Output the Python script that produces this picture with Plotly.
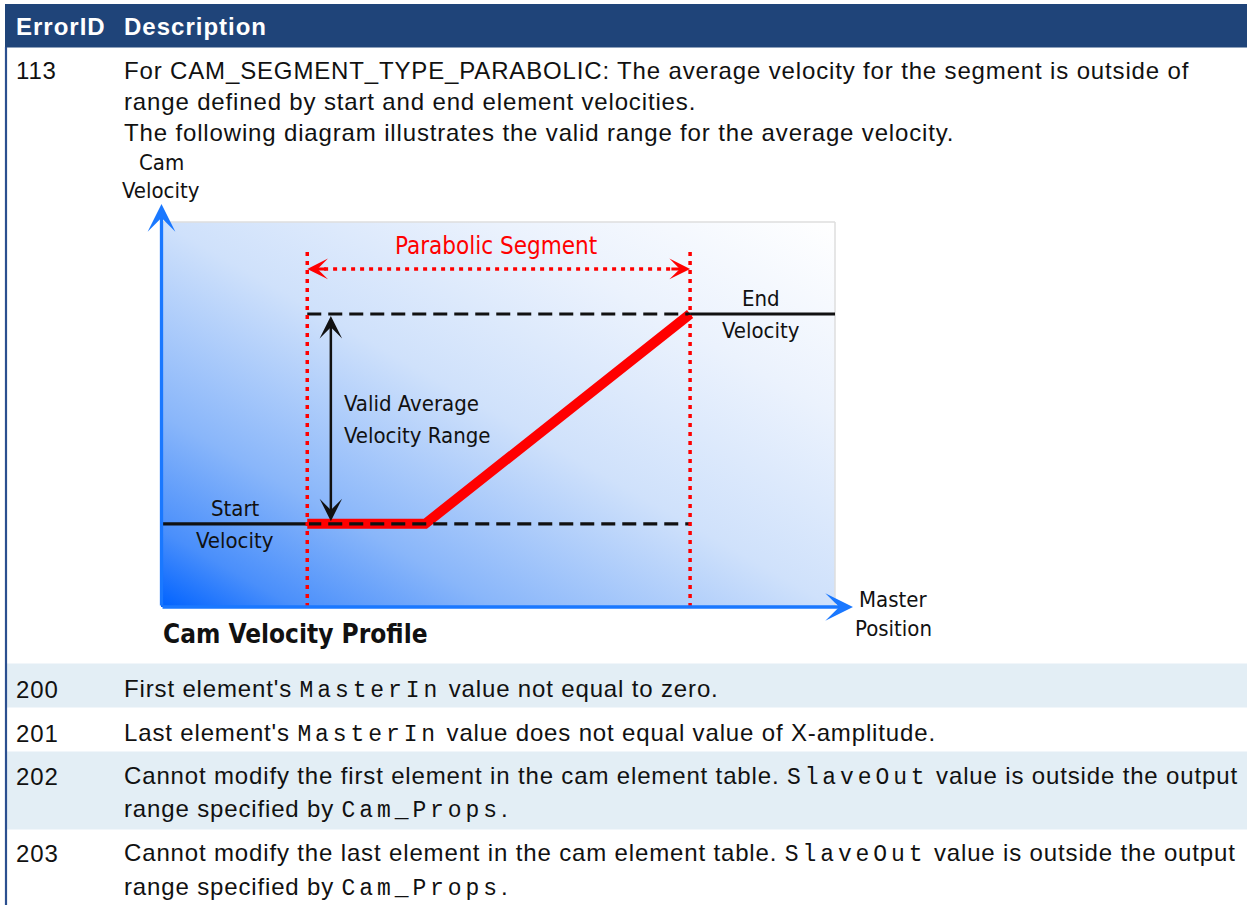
import base64
import plotly.graph_objects as go

W, H = 1247, 905

# ---------------- table data ----------------
columns = ["ErrorID", "Description"]
error_ids = ["113", "200", "201", "202", "203"]
# text between backticks is shown in a monospace (code) font
descriptions = [
    ["For CAM_SEGMENT_TYPE_PARABOLIC: The average velocity for the segment is outside of",
     "range defined by start and end element velocities.",
     "The following diagram illustrates the valid range for the average velocity."],
    ["First element's `MasterIn` value not equal to zero."],
    ["Last element's `MasterIn` value does not equal value of X-amplitude."],
    ["Cannot modify the first element in the cam element table. `SlaveOut` value is outside the output",
     "range specified by `Cam_Props`."],
    ["Cannot modify the last element in the cam element table. `SlaveOut` value is outside the output",
     "range specified by `Cam_Props`."],
]

# ---------------- diagram data (master position / cam velocity units) ----------------
profile_master = [2.17, 3.92, 7.85]
profile_velocity = [2.16, 2.16, 7.61]
start_velocity = 2.16
end_velocity = 7.61
segment_start = 2.17
segment_end = 7.85
segment_marker_level = 8.78
segment_marker_top = 9.27
diagram_x_range = [0, 10]
diagram_y_range = [0, 10]

# ---------------- layout constants (pixels) ----------------
row_tops = [47.5, 663.5, 707.5, 751.5, 829.5, 905]
row_first_line = [70, 689, 733, 776, 853]
line_gap = [31, 0, 0, 33.5, 34.5]
shaded_rows = [1, 3]
header_color = "#1f4479"
stripe_color = "#e3eef5"
box = dict(x0=161, x1=835, y0=222, y1=607)  # diagram plotting box (px)

BODY_FONT = "Liberation Sans, Arial, sans-serif"
NARROW = "Liberation Sans Narrow, DejaVu Sans Condensed, Arial Narrow, sans-serif"
BODY_SPACING = "0.85px"
MONO_STYLE = ("font-family:'Liberation Mono','Courier New',monospace;"
              "font-size:23px;letter-spacing:3.9px")


def rich(line):
    parts = line.split("`")
    out = []
    for j, p in enumerate(parts):
        if not p:
            continue
        if j % 2:
            out.append('<span style="%s">%s</span>' % (MONO_STYLE, p))
        else:
            out.append('<span style="letter-spacing:%s">%s</span>' % (BODY_SPACING, p))
    return "".join(out)


fig = go.Figure()

# diagram profile line
fig.add_trace(go.Scatter(
    x=profile_master, y=profile_velocity, xaxis="x2", yaxis="y2",
    mode="lines", line=dict(color="#ff0000", width=10), hoverinfo="skip",
    showlegend=False))

shapes = []
annotations = []

# header band and row stripes
shapes.append(dict(type="rect", xref="x", yref="y", x0=5, x1=W, y0=4, y1=47.5,
                   fillcolor=header_color, line=dict(width=0), layer="below"))
for i in shaded_rows:
    shapes.append(dict(type="rect", xref="x", yref="y", x0=7, x1=W,
                       y0=row_tops[i], y1=row_tops[i + 1], fillcolor=stripe_color,
                       line=dict(width=0), layer="below"))
# left border
shapes.append(dict(type="line", xref="x", yref="y", x0=6, x1=6, y0=47, y1=H,
                   line=dict(color="#2b4f8f", width=2.2)))

# header text
for xpos, col in zip((14, 122), columns):
    annotations.append(dict(x=xpos, y=26, xref="x", yref="y",
                            text='<b><span style="letter-spacing:1px">%s</span></b>' % col,
                            showarrow=False, xanchor="left", yanchor="middle",
                            font=dict(family=BODY_FONT, size=24, color="white")))

for i, (eid, lines) in enumerate(zip(error_ids, descriptions)):
    y0 = row_first_line[i]
    annotations.append(dict(x=14, y=y0, xref="x", yref="y", text=rich(eid), showarrow=False,
                            xanchor="left", yanchor="middle",
                            font=dict(family=BODY_FONT, size=24, color="#111111")))
    for k, ln in enumerate(lines):
        annotations.append(dict(x=122, y=y0 + k * line_gap[i], xref="x", yref="y",
                                text=rich(ln), showarrow=False,
                                xanchor="left", yanchor="middle",
                                font=dict(family=BODY_FONT, size=24, color="#111111")))

# ---------------- diagram ----------------
svg = ("<svg xmlns='http://www.w3.org/2000/svg' width='674' height='385' "
       "viewBox='0 0 674 385' preserveAspectRatio='none'><defs>"
       "<linearGradient id='g' x1='0' y1='1' x2='1' y2='0'>"
       "<stop offset='0' stop-color='#0062ff'/>"
       "<stop offset='0.1' stop-color='#4a8ffb'/>"
       "<stop offset='0.25' stop-color='#89b6fa'/>"
       "<stop offset='0.5' stop-color='#cfe1fb'/>"
       "<stop offset='0.75' stop-color='#ebf2fd'/>"
       "<stop offset='1' stop-color='#ffffff'/>"
       "</linearGradient></defs><rect width='674' height='385' fill='url(#g)'/></svg>")
img_src = "data:image/svg+xml;base64," + base64.b64encode(svg.encode()).decode()
bw, bh = box["x1"] - box["x0"], box["y1"] - box["y0"]

images = [dict(source=img_src, xref="paper", yref="paper",
               x=box["x0"] / W, y=1 - box["y0"] / H, sizex=bw / W, sizey=bh / H,
               xanchor="left", yanchor="top", sizing="stretch", layer="below")]

# light frame top / right
shapes.append(dict(type="line", xref="x", yref="y", x0=box["x0"], x1=box["x1"],
                   y0=box["y0"], y1=box["y0"], line=dict(color="#dedede", width=1.5)))
shapes.append(dict(type="line", xref="x", yref="y", x0=box["x1"], x1=box["x1"],
                   y0=box["y0"], y1=box["y1"], line=dict(color="#dedede", width=1.5)))

BLACK = "#111111"
RED = "#ff0000"
# velocity reference lines
shapes.append(dict(type="line", xref="x2", yref="y2", x0=diagram_x_range[0], x1=segment_start,
                   y0=start_velocity, y1=start_velocity, line=dict(color=BLACK, width=3.2)))
shapes.append(dict(type="line", xref="x2", yref="y2", x0=segment_start, x1=segment_end,
                   y0=start_velocity, y1=start_velocity,
                   line=dict(color=BLACK, width=3.2, dash="14px,7px")))
shapes.append(dict(type="line", xref="x2", yref="y2", x0=segment_start, x1=segment_end,
                   y0=end_velocity, y1=end_velocity,
                   line=dict(color=BLACK, width=3.2, dash="14px,7px")))
shapes.append(dict(type="line", xref="x2", yref="y2", x0=segment_end, x1=diagram_x_range[1],
                   y0=end_velocity, y1=end_velocity, line=dict(color=BLACK, width=3.2)))
# segment boundaries
for xs in (segment_start, segment_end):
    shapes.append(dict(type="line", xref="x2", yref="y2", x0=xs, x1=xs,
                       y0=diagram_y_range[0], y1=segment_marker_top,
                       line=dict(color=RED, width=3.5, dash="4px,5px")))
shapes.append(dict(type="line", xref="x2", yref="y2", x0=segment_start + 0.25,
                   x1=segment_end - 0.25, y0=segment_marker_level, y1=segment_marker_level,
                   line=dict(color=RED, width=3.5, dash="4px,5px")))

# red arrow heads of the segment marker
for tip, tail in ((segment_start, segment_start + 0.3), (segment_end, segment_end - 0.3)):
    annotations.append(dict(x=tip, y=segment_marker_level, xref="x2", yref="y2",
                            ax=tail, ay=segment_marker_level, axref="x2", ayref="y2",
                            text="", showarrow=True, arrowhead=3, arrowsize=1.15,
                            arrowwidth=3, arrowcolor=RED))

# valid range double arrow
annotations.append(dict(x=2.52, y=end_velocity - 0.05, xref="x2", yref="y2",
                        ax=2.52, ay=start_velocity + 0.03, axref="x2", ayref="y2",
                        text="", showarrow=True, arrowhead=3, startarrowhead=3,
                        arrowside="end+start", arrowsize=1.5, startarrowsize=1.5,
                        arrowwidth=2.5, arrowcolor=BLACK))

# blue axes arrows
BLUE = "#1a78ff"
annotations.append(dict(x=box["x0"] + 0.5, y=204, xref="x", yref="y",
                        ax=box["x0"] + 0.5, ay=box["y1"], axref="x", ayref="y",
                        text="", showarrow=True, arrowhead=3, arrowsize=1.4,
                        arrowwidth=3.3, arrowcolor=BLUE))
annotations.append(dict(x=853, y=box["y1"], xref="x", yref="y",
                        ax=box["x0"], ay=box["y1"], axref="x", ayref="y",
                        text="", showarrow=True, arrowhead=3, arrowsize=1.4,
                        arrowwidth=3.3, arrowcolor=BLUE))


def label(txt, x, y, size=22, color=BLACK, anchor="center", bold=False):
    annotations.append(dict(x=x, y=y, xref="x", yref="y",
                            text=("<b>%s</b>" % txt) if bold else txt,
                            showarrow=False, xanchor=anchor, yanchor="middle",
                            font=dict(family=NARROW, size=size, color=color)))


label("Cam", 161, 162)
label("Velocity", 161, 190)
label("Parabolic Segment", 496, 246, size=24, color=RED)
label("End", 761, 298)
label("Velocity", 761, 330)
label("Valid Average", 342, 403, anchor="left")
label("Velocity Range", 342, 435, anchor="left")
label("Start", 235, 508)
label("Velocity", 235, 540)
label("Master", 893, 599)
label("Position", 893, 628)
label("Cam Velocity Profile", 161, 634, size=26, anchor="left", bold=True)

fig.update_layout(
    width=W, height=H, margin=dict(l=0, r=0, t=0, b=0),
    paper_bgcolor="white", plot_bgcolor="rgba(0,0,0,0)",
    xaxis=dict(range=[0, W], visible=False, fixedrange=True, domain=[0, 1]),
    yaxis=dict(range=[H, 0], visible=False, fixedrange=True, domain=[0, 1]),
    xaxis2=dict(range=diagram_x_range, visible=False, fixedrange=True, anchor="y2",
                domain=[box["x0"] / W, box["x1"] / W]),
    yaxis2=dict(range=diagram_y_range, visible=False, fixedrange=True, anchor="x2",
                domain=[1 - box["y1"] / H, 1 - box["y0"] / H]),
    shapes=shapes, annotations=annotations, images=images, showlegend=False,
)

fig.write_html("out.html", config={"displayModeBar": False, "staticPlot": True},
               post_script="document.body.style.margin='0';document.body.style.overflow='hidden';")
